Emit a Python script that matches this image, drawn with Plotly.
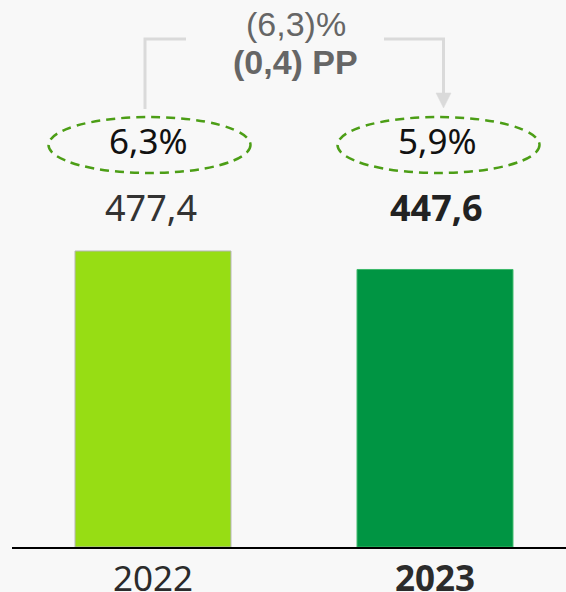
import plotly.graph_objects as go

categories = ["2022", "2023"]
values = [477.4, 447.6]
value_labels = ["477,4", "447,6"]
margin_labels = ["6,3%", "5,9%"]
change_pct = "(6,3)%"
change_pp = "(0,4) PP"
bar_colors = ["#97dd14", "#009543"]
edge_colors = ["#b5b5b5", "#3cb96a"]

W, H = 566, 592
PL, PB = 12, 45          # plot area left / bottom margin (px)
PW, PH = W - PL, H - PB  # plot area size


def px(xp):
    return (xp - PL) / PW


def py(yp):
    return (PH - yp) / PH


fig = go.Figure()
fig.add_trace(go.Bar(
    x=[0, 1], y=values,
    width=0.553,
    marker=dict(color=bar_colors, line=dict(color=edge_colors, width=1)),
    hoverinfo="skip",
))

ymax = values[0] * PH / 296.0
bold = [False, True]
ticktext = [f"<b>{c}</b>" if b else c for c, b in zip(categories, bold)]

fig.update_layout(
    width=W, height=H,
    margin=dict(l=PL, r=0, t=0, b=PB, pad=0, autoexpand=False),
    paper_bgcolor="#f8f8f8", plot_bgcolor="#f8f8f8",
    showlegend=False,
    xaxis=dict(range=[-0.5, 1.4645], tickvals=[0, 1], ticktext=ticktext,
               showgrid=False, zeroline=False, showline=True,
               linecolor="#000000", linewidth=2, ticks="", automargin=False,
               tickfont=dict(family="Noto Sans", size=35, color="#2b2b2b"),
               fixedrange=True),
    yaxis=dict(range=[0, ymax], visible=False, fixedrange=True, automargin=False),
)

# value labels and margin labels
val_x = [150.5, 436]
mrg_x = [148, 437.5]
ell_x = [149.5, 438.5]
for i in range(2):
    b = bold[i]
    fig.add_annotation(
        x=px(val_x[i]), y=py(207), xref="paper", yref="paper",
        text=(f"<b>{value_labels[i]}</b>" if b else value_labels[i]),
        showarrow=False, xanchor="center", yanchor="middle",
        font=dict(family="Noto Sans", size=36, color="#222222" if b else "#333333"),
    )
    fig.add_annotation(
        x=px(mrg_x[i]), y=py(141), xref="paper", yref="paper",
        text=margin_labels[i], showarrow=False, xanchor="center", yanchor="middle",
        font=dict(family="Noto Sans", size=35, color="#111111"),
    )
    fig.add_shape(
        type="circle", xref="paper", yref="paper",
        x0=px(ell_x[i] - 101), x1=px(ell_x[i] + 101),
        y0=py(173), y1=py(117),
        line=dict(color="#4c9e16", width=2.5, dash="9px,6px"),
    )

# change text
fig.add_annotation(
    x=px(296), y=py(24), xref="paper", yref="paper",
    text=change_pct, showarrow=False, xanchor="center", yanchor="middle",
    font=dict(family="Liberation Sans", size=34, color="#666666"),
)
fig.add_annotation(
    x=px(295), y=py(62), xref="paper", yref="paper",
    text=f"<b>{change_pp}</b>", showarrow=False, xanchor="center", yanchor="middle",
    font=dict(family="Liberation Sans", size=34, color="#666666"),
)

# connectors
lc = "#dadada"
fig.add_shape(type="path", xref="paper", yref="paper",
              path=f"M {px(145)} {py(109)} L {px(145)} {py(39)} L {px(186)} {py(39)}",
              line=dict(color=lc, width=3))
fig.add_shape(type="path", xref="paper", yref="paper",
              path=f"M {px(384)} {py(39)} L {px(443.5)} {py(39)} L {px(443.5)} {py(94)}",
              line=dict(color=lc, width=3))
fig.add_shape(type="path", xref="paper", yref="paper",
              path=f"M {px(436)} {py(93)} L {px(451)} {py(93)} L {px(443.5)} {py(108)} Z",
              fillcolor=lc, line=dict(color=lc, width=0.5))

fig.write_html(
    "out.html",
    config={"displayModeBar": False},
    post_script="document.body.style.margin='0';document.body.style.overflow='hidden';",
)
